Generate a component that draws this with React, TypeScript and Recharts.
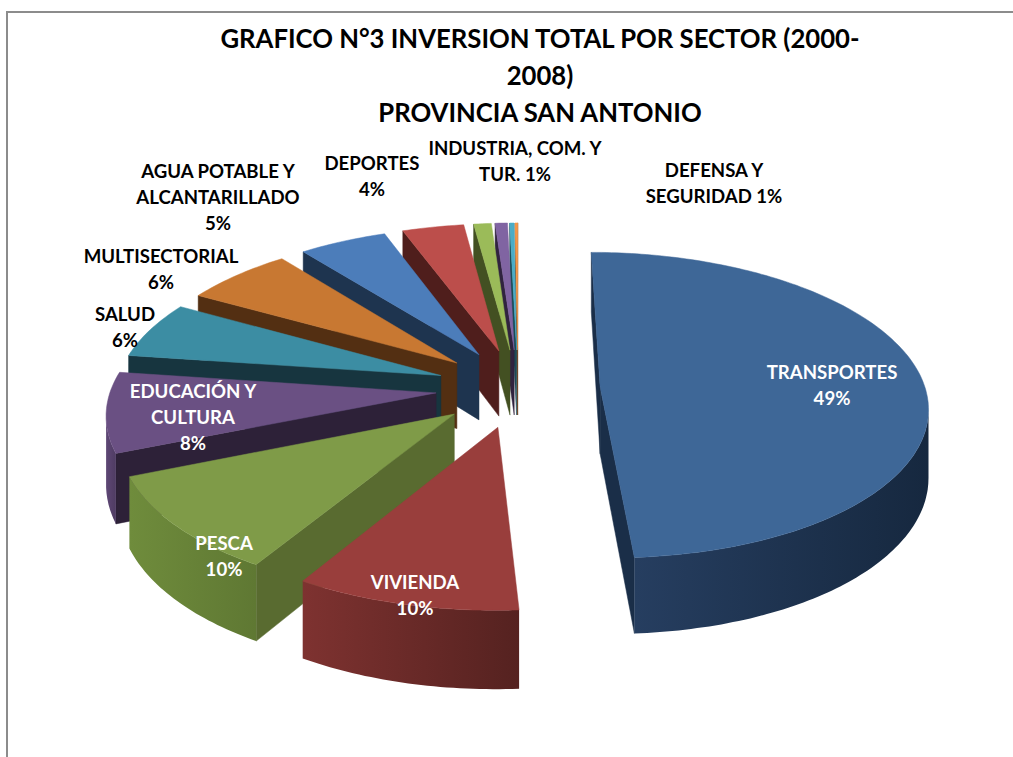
import React from 'react';
import { PieChart, Pie } from 'recharts';

const categories = ['TRANSPORTES', 'VIVIENDA', 'PESCA', 'EDUCACION', 'SALUD', 'MULTISECTORIAL', 'AGUA', 'DEPORTES', 'INDUSTRIA', 'DEFENSA', 'OTROS A', 'OTROS B'];
const values = [49, 9.6, 10.2, 8.4, 6, 6.2, 5, 3.5, 1, 0.7, 0.25, 0.15];
const labelLines = [
  ['TRANSPORTES', '49%'],
  ['VIVIENDA', '10%'],
  ['PESCA', '10%'],
  ['EDUCACIÓN Y', 'CULTURA', '8%'],
  ['SALUD', '6%'],
  ['MULTISECTORIAL', '6%'],
  ['AGUA POTABLE Y', 'ALCANTARILLADO', '5%'],
  ['DEPORTES', '4%'],
  ['INDUSTRIA, COM. Y', 'TUR. 1%'],
  ['DEFENSA Y', 'SEGURIDAD 1%'],
  [],
  [],
];
const titleLines = ['GRAFICO N°3 INVERSION TOTAL POR SECTOR (2000-', '2008)', 'PROVINCIA SAN ANTONIO'];

const topColors = ['#3E6797', '#993E3C', '#7F9B48', '#6A5083', '#3C8DA3', '#C87832', '#4C7DBA', '#BC4E4B', '#9BBB59', '#8064A2', '#4BACC6', '#F79646'];
const radialColors = ['#1A2E48', '#5A2321', '#596B30', '#2D2138', '#17353F', '#532F12', '#1E344F', '#4F1E1C', '#435022', '#30233F', '#1B4A56', '#6A3F1C'];
const wallLight = ['#263E60', '#7E3230', '#6F8C3C', '#5E4775', '#2B6878', '#965A26', '#385D8B', '#8C3A38', '#748C42', '#5F4A79', '#387F93', '#B87034'];
const wallDark = ['#16283F', '#552220', '#5F7833', '#4F3C63', '#225260', '#7A4A20', '#2D4A70', '#6E2E2C', '#5F7336', '#4D3C62', '#2D6778', '#96592A'];

// label centre x and first baseline, same order as categories
const labelX = [832, 415, 224, 193, 125, 161, 218, 372, 515, 714];
const labelY = [379, 589, 550, 398, 321, 263, 178, 170, 155, 177];

const WIDTH = 1013;
const HEIGHT = 757;
const EXPLODE_X = 0.253;
const EXPLODE_Y = 0.26;
const TILT = 0.464;
const PERSP = 0.12;
const DEPTH = 67;

const tableData = categories
  .map((name, i) => ({
    name,
    value: values[i],
    index: i,
    top: topColors[i],
    radial: radialColors[i],
    light: wallLight[i],
    dark: wallDark[i],
  }))
  .reverse();

const rad = (d: number) => (d * Math.PI) / 180;
const pathOf = (pts: number[][]) => 'M' + pts.map((p) => p[0].toFixed(1) + ',' + p[1].toFixed(1)).join('L') + 'Z';

// exploded slice with a bit of perspective, extruded downwards
function Slice3D(props: any) {
  const { cx, cy, outerRadius: R, startAngle, endAngle } = props;
  const d = props.payload ?? props;
  const c1 = 90 - Math.max(startAngle, endAngle);
  const c2 = 90 - Math.min(startAngle, endAngle);
  const mid = (c1 + c2) / 2;
  const ex = Math.sin(rad(mid)) * EXPLODE_X;
  const ey = -Math.cos(rad(mid)) * EXPLODE_Y;

  const project = (gx: number, gy: number, drop: number) => {
    const s = 1 / (1 - PERSP * gy);
    return [cx + gx * R * s, cy + (gy * R * TILT + drop) * s];
  };

  const steps = Math.max(2, Math.ceil(c2 - c1));
  const arc: number[][] = [];
  for (let i = 0; i <= steps; i++) {
    const a = rad(c1 + ((c2 - c1) * i) / steps);
    arc.push([ex + Math.sin(a), ey - Math.cos(a)]);
  }
  const top = arc.map((p) => project(p[0], p[1], 0));
  const bottom = arc.map((p) => project(p[0], p[1], DEPTH));
  const apexTop = project(ex, ey, 0);
  const apexBottom = project(ex, ey, DEPTH);
  const last = top.length - 1;

  // a wall shows only if its top edge runs leftward on screen
  const walls: React.ReactNode[] = [];
  if (top[0][0] < apexTop[0]) {
    walls.push(<path key="r1" d={pathOf([apexTop, top[0], bottom[0], apexBottom])} fill={d.radial} stroke={d.radial} strokeWidth={0.5} />);
  }
  if (apexTop[0] < top[last][0]) {
    walls.push(<path key="r2" d={pathOf([top[last], apexTop, apexBottom, bottom[last]])} fill={d.radial} stroke={d.radial} strokeWidth={0.5} />);
  }

  const frontTop: number[][] = [];
  const frontBottom: number[][] = [];
  for (let i = 0; i <= last; i++) {
    const leftward = (i < last && top[i + 1][0] < top[i][0]) || (i > 0 && top[i][0] < top[i - 1][0]);
    if (leftward) {
      frontTop.push(top[i]);
      frontBottom.push(bottom[i]);
    }
  }
  const gradId = 'wall' + d.index;

  return (
    <g>
      <defs>
        <linearGradient id={gradId} x1="0" y1="0" x2="1" y2="0">
          <stop offset="0%" stopColor={d.light} />
          <stop offset="100%" stopColor={d.dark} />
        </linearGradient>
      </defs>
      {walls}
      {frontTop.length > 1 && <path d={pathOf([...frontTop, ...frontBottom.reverse()])} fill={`url(#${gradId})`} />}
      <path d={pathOf([apexTop, ...top])} fill={d.top} stroke={d.top} strokeWidth={0.5} />
    </g>
  );
}

function SliceLabel(props: any) {
  const d = props.payload ?? props;
  const lines = labelLines[d.index];
  if (!lines || lines.length === 0) return null;
  const light = d.index < 4;
  return (
    <text
      x={labelX[d.index]}
      y={labelY[d.index]}
      textAnchor="middle"
      fontFamily="Lato, sans-serif"
      fontWeight={700}
      fontSize={18.6}
      fill={light ? '#ffffff' : '#000000'}
    >
      {lines.map((l, i) => (
        <tspan key={i} x={labelX[d.index]} dy={i === 0 ? 0 : 26}>
          {l}
        </tspan>
      ))}
    </text>
  );
}

export default function App() {
  return (
    <div style={{ position: 'fixed', left: 0, top: 0, width: WIDTH, height: HEIGHT, overflow: 'hidden', background: '#fff' }}>
      <div style={{ position: 'absolute', left: 6, top: 11, width: WIDTH, height: HEIGHT, borderTop: '2px solid #8c8c8c', borderLeft: '2px solid #8c8c8c' }} />
      <div style={{ position: 'absolute', left: 0, top: 0 }}>
        <PieChart width={WIDTH} height={HEIGHT} margin={{ top: 0, right: 0, bottom: 0, left: 0 }}>
          <text x={540} y={48} textAnchor="middle" fontFamily="Lato, sans-serif" fontWeight={700} fontSize={25.7} fill="#000">
            {titleLines.map((l, i) => (
              <tspan key={i} x={540} dy={i === 0 ? 0 : 37}>
                {l}
              </tspan>
            ))}
          </text>
          <Pie
            data={tableData}
            dataKey="value"
            nameKey="name"
            cx={518}
            cy={388}
            outerRadius={325}
            startAngle={90}
            endAngle={450}
            stroke="none"
            shape={Slice3D}
            label={SliceLabel}
            labelLine={false}
            isAnimationActive={false}
          />
        </PieChart>
      </div>
    </div>
  );
}
